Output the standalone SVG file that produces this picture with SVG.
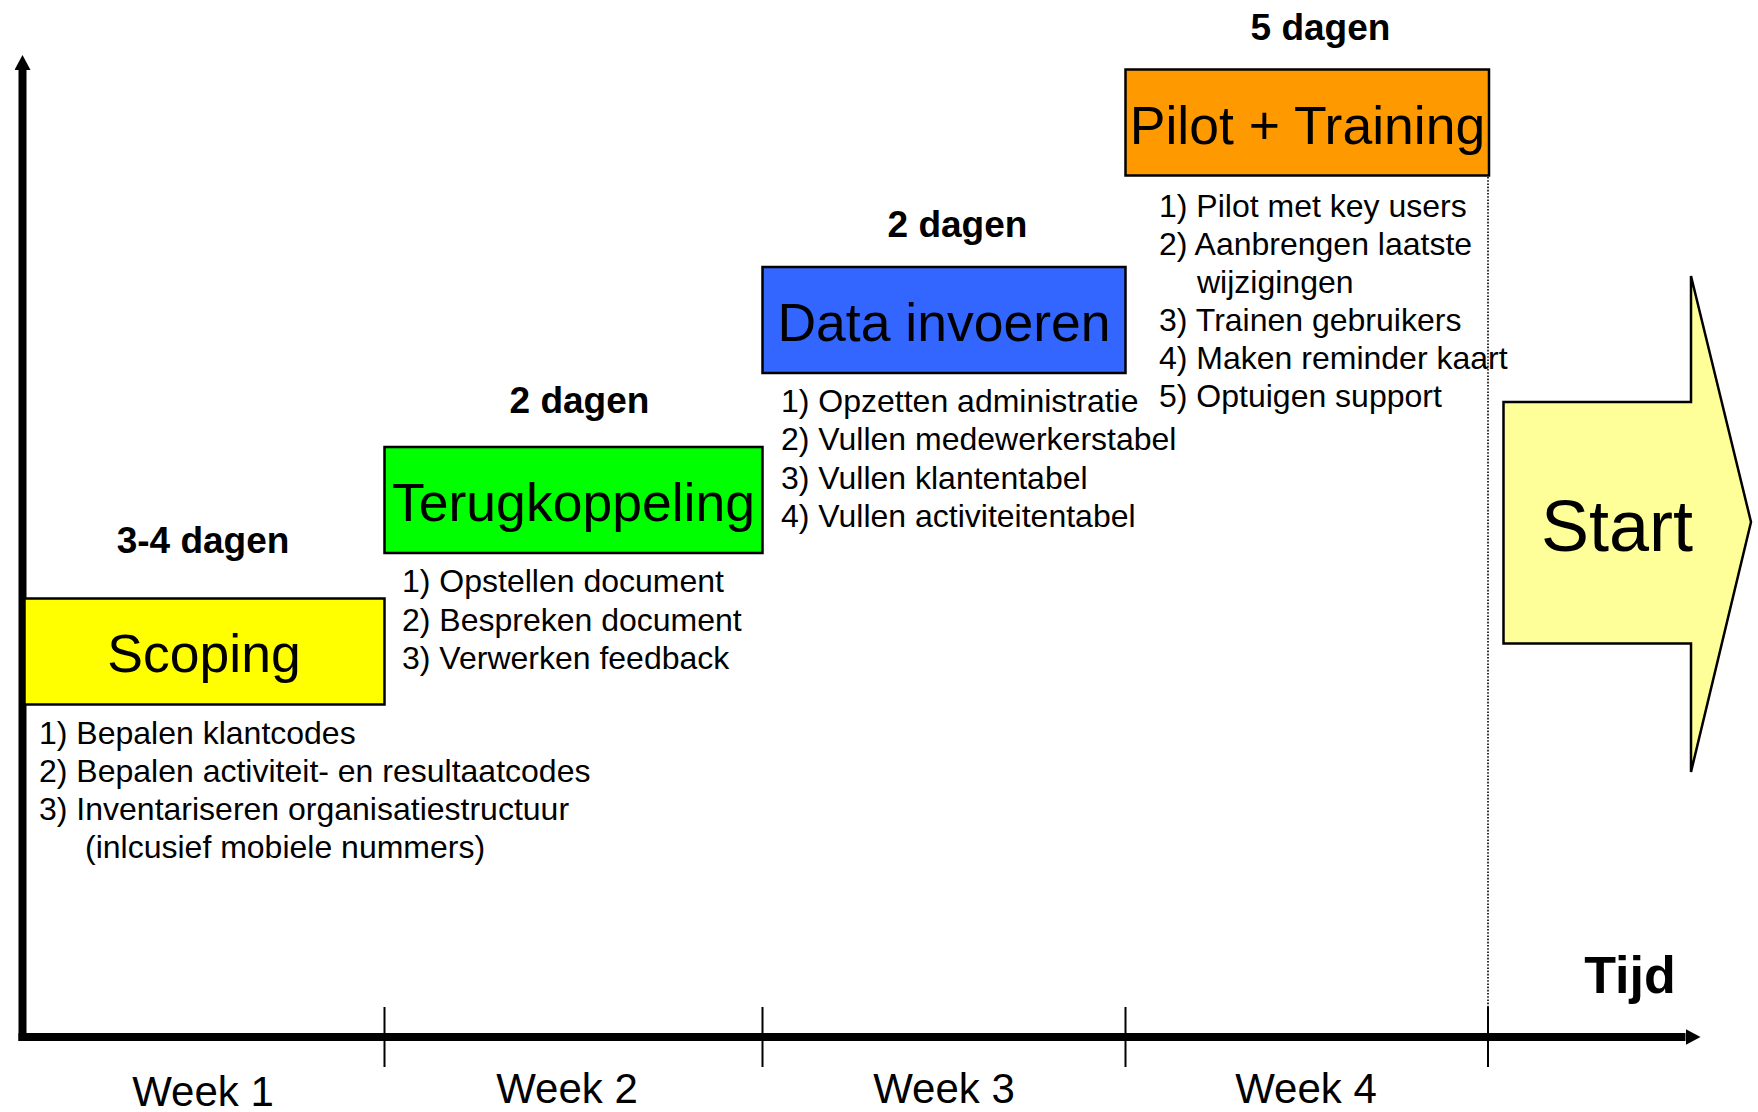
<svg xmlns="http://www.w3.org/2000/svg" width="1758" height="1112" viewBox="0 0 1758 1112">
<style>
.box{stroke:#000;stroke-width:2.5}
.title{font-family:"Liberation Sans",Arial,sans-serif;font-size:53.5px;fill:#000;text-anchor:middle}
.dur{font-family:"Liberation Sans",Arial,sans-serif;font-size:37px;font-weight:bold;fill:#000;text-anchor:middle}
.item{font-family:"Liberation Sans",Arial,sans-serif;font-size:32px;fill:#000}
.week{font-family:"Liberation Sans",Arial,sans-serif;font-size:42px;fill:#000;text-anchor:middle}
.axis{stroke:#000;stroke-width:8;fill:none}
.tick{stroke:#000;stroke-width:2}
.dotted{stroke:#000;stroke-width:1.6;stroke-dasharray:1.6 1.6;fill:none}
</style>
<defs>
<marker id="ah" viewBox="0 0 15 16" refX="0" refY="8" markerWidth="15" markerHeight="16" markerUnits="userSpaceOnUse" orient="auto">
<path d="M0,0 L15,8 L0,16 z" fill="#000"/>
</marker>
</defs>
<rect width="1758" height="1112" fill="#fff"/>

<g id="connectors">
<line class="axis" x1="22.5" y1="1041" x2="22.5" y2="70" marker-end="url(#ah)"/>
<line class="axis" x1="18.5" y1="1037" x2="1685.5" y2="1037" marker-end="url(#ah)"/>
<line class="tick" x1="384.5" y1="1007" x2="384.5" y2="1067"/>
<line class="tick" x1="762.5" y1="1007" x2="762.5" y2="1067"/>
<line class="tick" x1="1125.5" y1="1007" x2="1125.5" y2="1067"/>
<line class="tick" x1="1488" y1="1007" x2="1488" y2="1067"/>
<line class="dotted" x1="1488" y1="177" x2="1488" y2="1007"/>
</g>

<g id="scoping">
<text class="dur" x="203" y="553">3-4 dagen</text>
<rect class="box" x="24.5" y="598.5" width="360" height="106" fill="#FFFF00"/>
<text class="title" x="204" y="671.5">Scoping</text>
<text class="item" x="39" y="744">1) Bepalen klantcodes</text>
<text class="item" x="39" y="782">2) Bepalen activiteit- en resultaatcodes</text>
<text class="item" x="39" y="820">3) Inventariseren organisatiestructuur</text>
<text class="item" x="85" y="858">(inlcusief mobiele nummers)</text>
</g>

<g id="terugkoppeling">
<text class="dur" x="579.5" y="413">2 dagen</text>
<rect class="box" x="384.5" y="447" width="378" height="106" fill="#00FF00"/>
<text class="title" x="573.5" y="520.5">Terugkoppeling</text>
<text class="item" x="402" y="592">1) Opstellen document</text>
<text class="item" x="402" y="630.5">2) Bespreken document</text>
<text class="item" x="402" y="669">3) Verwerken feedback</text>
</g>

<g id="data-invoeren">
<text class="dur" x="957.5" y="236.5">2 dagen</text>
<rect class="box" x="762.5" y="267" width="363" height="106" fill="#3366FF"/>
<text class="title" x="944" y="340.5">Data invoeren</text>
<text class="item" x="781" y="412">1) Opzetten administratie</text>
<text class="item" x="781" y="450">2) Vullen medewerkerstabel</text>
<text class="item" x="781" y="488.5">3) Vullen klantentabel</text>
<text class="item" x="781" y="527">4) Vullen activiteitentabel</text>
</g>

<g id="pilot-training">
<text class="dur" x="1320.5" y="39.5">5 dagen</text>
<rect class="box" x="1125.5" y="69.5" width="363.5" height="106" fill="#FF9900"/>
<text class="title" x="1307.5" y="143.5">Pilot + Training</text>
<text class="item" x="1159" y="216.5">1) Pilot met key users</text>
<text class="item" x="1159" y="254.5">2) Aanbrengen laatste</text>
<text class="item" x="1197" y="292.5">wijzigingen</text>
<text class="item" x="1159" y="330.5">3) Trainen gebruikers</text>
<text class="item" x="1159" y="368.5">4) Maken reminder kaart</text>
<text class="item" x="1159" y="407">5) Optuigen support</text>
</g>

<g id="start">
<polygon class="box" points="1503.5,402 1691,402 1691,276 1751,522 1691,772 1691,643.5 1503.5,643.5" fill="#FFFF99"/>
<text x="1617" y="550.5" font-family="'Liberation Sans',Arial,sans-serif" font-size="72" text-anchor="middle" fill="#000">Start</text>
</g>

<g id="labels">
<text x="1630" y="993" font-family="'Liberation Sans',Arial,sans-serif" font-size="52" font-weight="bold" text-anchor="middle" fill="#000">Tijd</text>
<text class="week" x="203" y="1106">Week 1</text>
<text class="week" x="567" y="1103">Week 2</text>
<text class="week" x="944" y="1103">Week 3</text>
<text class="week" x="1306" y="1103">Week 4</text>
</g>
</svg>
